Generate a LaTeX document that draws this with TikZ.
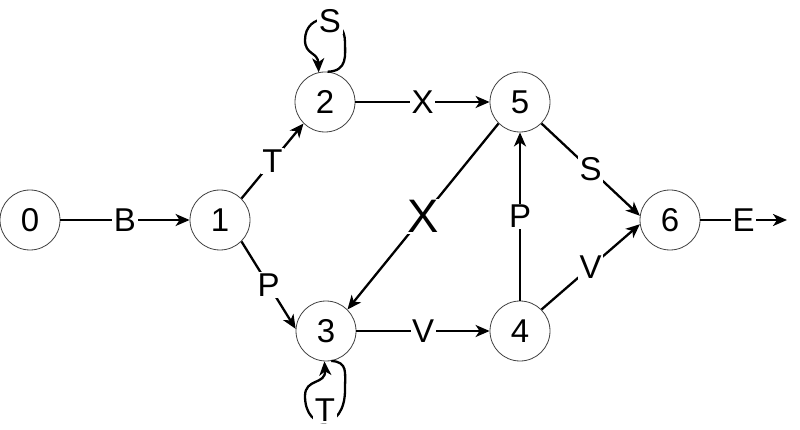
\documentclass[tikz,border=0pt]{standalone}
\usepackage{fontspec}
\setmainfont{Liberation Sans}
\usetikzlibrary{arrows.meta}
\begin{document}
\begin{tikzpicture}[x=1pt,y=-1pt,
  state/.style={circle, draw=black!75, line width=0.8pt, minimum size=60pt, inner sep=0pt, font=\fontsize{33}{36}\selectfont},
  edge/.style={line width=2.3pt, -{Stealth[length=14pt,width=12pt,inset=4pt]}},
  lab/.style={fill=white, inner sep=1.5pt, font=\fontsize{33}{36}\selectfont},
  biglab/.style={fill=white, inner sep=1.5pt, font=\fontsize{47}{50}\selectfont}]
\useasboundingbox (0,0) rectangle (800,430);
\node[state] (n0) at (30,220) {0};
\node[state] (n1) at (220,220) {1};
\node[state] (n2) at (325,102) {2};
\node[state] (n3) at (326,331) {3};
\node[state] (n5) at (520,102) {5};
\node[state] (n4) at (520,331) {4};
\node[state] (n6) at (670,220) {6};
\coordinate (ex) at (787,220);
\draw[edge] (n0) -- node[lab]{B} (n1);
\draw[edge] (n1.45) -- node[lab]{T} (n2.225);
\draw[edge] (n1.-45) -- node[lab]{P} (n3.176);
\draw[edge] (n2) -- node[lab]{X} (n5);
\draw[edge] (n3) -- node[lab]{V} (n4);
\draw[edge] (n5.225) -- node[biglab]{X} (n3.45);
\draw[edge] (n4) -- node[lab]{P} (n5);
\draw[edge] (n5.-45) -- node[lab]{S} (n6.172);
\draw[edge] (n4.45) -- node[lab]{V} (n6.-172);
\draw[edge] (n6) -- node[lab]{E} (ex);
\draw[edge] (n2.85) .. controls (348,71) and (345,55) .. (345,42) .. controls (345,12) and (305,12) .. (305,40) .. controls (305,55) and (318,52) .. (n2.102);
\node[lab] (ls) at (330,21) {S};
\draw[edge] (n3.-80) .. controls (348,362) and (345,372) .. (345,390) .. controls (345,432) and (305,432) .. (305,396) .. controls (305,378) and (326,385) .. (n3.-93);
\node[lab] (lt) at (325,410) {T};
\end{tikzpicture}
\end{document}
